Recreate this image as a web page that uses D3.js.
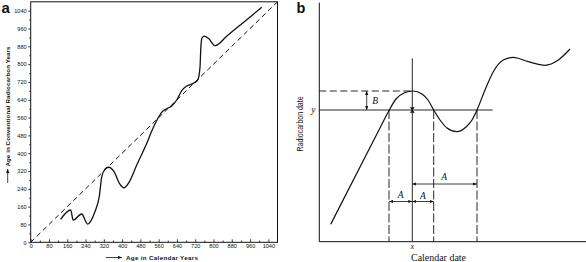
<!DOCTYPE html>
<html>
<head>
<meta charset="utf-8">
<script src="https://cdn.jsdelivr.net/npm/d3@7"></script>
<style>
  html, body { margin: 0; padding: 0; background: #fff; }
  svg { display: block; }
</style>
</head>
<body>
<svg id="chart" width="586" height="262"></svg>
<script>
// ---------- Panel a data ----------
const aCalendar = [131,175,186,223,249,281,300,311,325,340,365,388,408,432,464,508,531,552,576,595,617,639,661,683,712,731,741,744,749,759,778,807,860,910,960,1011];
const aRadiocarbon = [103,145,100,127,82,137,205,295,328,337,317,265,245,272,347,445,503,548,587,600,612,639,681,702,714,729,788,863,916,926,916,883,928,970,1012,1055];
const aTicks = [0,80,160,240,320,400,480,560,640,720,800,880,960,1040];
const aMinorTicks = [40,120,200,280,360,440,520,600,680,760,840,920,1000];
const aDiagonal = [0, 1080];
const aXTitle = "Age in Calendar Years";
const aYTitle = "Age in Conventional Radiocarbon Years";

// ---------- Panel b data (schematic units) ----------
const bCalendar = [11.4,62.7,69.7,76.7,84.7,93.7,102.7,108.7,114.4,120.7,127.7,137.4,146.7,152.7,157.7,165.7,174,184,194,209,225.7,239,250.7];
const bRadiocarbon = [17.4,117.7,131.2,142.7,148.7,150.7,147.7,141.7,131.7,121.7,113.7,110,114.7,121.7,131.7,151.7,170,181.7,184.4,180,176.4,181.7,192.7];
const bYLevel = 131.7;      // measured radiocarbon date y
const bPeakLevel = 150.7;   // dashed level (B offset)
const bXDate = 93;          // true calendar date x
const bCuts = [69.7, 114.4, 157.7]; // calendar intercepts
const bXLineTop = 183.4;
const bYLineEnd = 173.4;
const bArrowBx = 47.4;
const bArrowLowY = 40.2;
const bArrowHighY = 57.7;

const svg = d3.select("#chart");
const ink = "#111";

// markers
const defs = svg.append("defs");
defs.append("marker").attr("id","arr").attr("viewBox","0 0 10 10")
  .attr("refX",10).attr("refY",5).attr("markerWidth",4).attr("markerHeight",4)
  .attr("orient","auto-start-reverse").attr("markerUnits","userSpaceOnUse")
  .append("path").attr("d","M0,1 L10,5 L0,9 Z").attr("fill",ink);

// ================= Panel a =================
const ax = d3.scaleLinear().domain([0,1080]).range([30.7, 277.5]);
const ay = d3.scaleLinear().domain([0,1080]).range([242.3, 1.8]);

// frame
svg.append("rect").attr("x", ax(0)).attr("y", ay(1080))
  .attr("width", ax(1080)-ax(0)).attr("height", ay(0)-ay(1080))
  .attr("fill","none").attr("stroke",ink).attr("stroke-width",1);

// x axis
const xAxisA = d3.axisBottom(ax).tickValues(aTicks).tickSize(-3).tickPadding(3).tickFormat(d3.format("d"));
const gx = svg.append("g").attr("transform",`translate(0,${ay(0)})`).call(xAxisA);
gx.select(".domain").remove();
gx.selectAll("line").attr("stroke",ink).attr("stroke-width",0.8);
gx.selectAll("text").attr("font-family","Liberation Sans, Arial, sans-serif")
  .attr("font-size",5.6).attr("fill",ink).attr("dy","0.5em");
svg.append("g").attr("transform",`translate(0,${ay(0)})`)
  .call(d3.axisBottom(ax).tickValues(aMinorTicks).tickSize(-1.8).tickFormat(""))
  .call(g=>{g.select(".domain").remove(); g.selectAll("line").attr("stroke",ink).attr("stroke-width",0.8);});

// y axis
const yAxisA = d3.axisLeft(ay).tickValues(aTicks).tickSize(2.5).tickPadding(1.5).tickFormat(d3.format("d"));
const gy = svg.append("g").attr("transform",`translate(${ax(0)},0)`).call(yAxisA);
gy.select(".domain").remove();
gy.selectAll("line").attr("stroke",ink).attr("stroke-width",0.8);
gy.selectAll("text").attr("font-family","Liberation Sans, Arial, sans-serif")
  .attr("font-size",5.6).attr("fill",ink);
svg.append("g").attr("transform",`translate(${ax(0)},0)`)
  .call(d3.axisLeft(ay).tickValues(aMinorTicks).tickSize(1.5).tickFormat(""))
  .call(g=>{g.select(".domain").remove(); g.selectAll("line").attr("stroke",ink).attr("stroke-width",0.8);});

// diagonal dashed line
svg.append("line").attr("x1",ax(aDiagonal[0])).attr("y1",ay(aDiagonal[0]))
  .attr("x2",ax(aDiagonal[1])).attr("y2",ay(aDiagonal[1]))
  .attr("stroke",ink).attr("stroke-width",1).attr("stroke-dasharray","5,3.5");

// calibration curve
const aPts = aCalendar.map((c,i)=>[c,aRadiocarbon[i]]);
svg.append("path").datum(aPts)
  .attr("d", d3.line().x(d=>ax(d[0])).y(d=>ay(d[1])).curve(d3.curveMonotoneX))
  .attr("fill","none").attr("stroke",ink).attr("stroke-width",1.3);

// axis titles
svg.append("line").attr("x1",106).attr("y1",257.5).attr("x2",122).attr("y2",257.5)
  .attr("stroke",ink).attr("stroke-width",0.8).attr("marker-end","url(#arr)");
svg.append("text").attr("x",126).attr("y",259.6).text(aXTitle)
  .attr("font-family","Liberation Sans, Arial, sans-serif").attr("font-size",6.2)
  .attr("font-weight","bold").attr("fill",ink)
  .attr("textLength",72).attr("lengthAdjust","spacing");

svg.append("line").attr("x1",7.7).attr("y1",183).attr("x2",7.7).attr("y2",169)
  .attr("stroke",ink).attr("stroke-width",0.8).attr("marker-end","url(#arr)");
svg.append("text").attr("transform","translate(9.8,166.5) rotate(-90)").text(aYTitle)
  .attr("font-family","Liberation Sans, Arial, sans-serif").attr("font-size",6.2)
  .attr("font-weight","bold").attr("fill",ink)
  .attr("textLength",120).attr("lengthAdjust","spacing");

svg.append("text").attr("x",1.5).attr("y",12.7).text("a")
  .attr("font-family","Liberation Sans, Arial, sans-serif").attr("font-size",15)
  .attr("font-weight","bold").attr("fill",ink);

// ================= Panel b =================
const bx = d3.scaleLinear().domain([0,267]).range([319.3, 586.3]);
const by = d3.scaleLinear().domain([0,239]).range([241.7, 2.7]);

// axes
svg.append("line").attr("x1",bx(0)).attr("y1",by(0)).attr("x2",bx(267)).attr("y2",by(0))
  .attr("stroke",ink).attr("stroke-width",1);
svg.append("line").attr("x1",bx(0)).attr("y1",by(0)).attr("x2",bx(0)).attr("y2",by(239))
  .attr("stroke",ink).attr("stroke-width",1);

// curve
const bPts = bCalendar.map((c,i)=>[c,bRadiocarbon[i]]);
svg.append("path").datum(bPts)
  .attr("d", d3.line().x(d=>bx(d[0])).y(d=>by(d[1])).curve(d3.curveMonotoneX))
  .attr("fill","none").attr("stroke",ink).attr("stroke-width",1.2);

// measured y level
svg.append("line").attr("x1",bx(0)).attr("y1",by(bYLevel)).attr("x2",bx(bYLineEnd)).attr("y2",by(bYLevel))
  .attr("stroke",ink).attr("stroke-width",0.9);
// dashed peak level
svg.append("line").attr("x1",bx(0)).attr("y1",by(bPeakLevel)).attr("x2",bx(bXDate)).attr("y2",by(bPeakLevel))
  .attr("stroke",ink).attr("stroke-width",0.9).attr("stroke-dasharray","7,3.5");
// vertical at x
svg.append("line").attr("x1",bx(bXDate)).attr("y1",by(0)).attr("x2",bx(bXDate)).attr("y2",by(bXLineTop))
  .attr("stroke",ink).attr("stroke-width",0.9);
// dashed verticals at intercepts
bCuts.forEach(c=>{
  svg.append("line").attr("x1",bx(c)).attr("y1",by(bYLevel)).attr("x2",bx(c)).attr("y2",by(0))
    .attr("stroke",ink).attr("stroke-width",0.9).attr("stroke-dasharray","9,2.5");
});
// marker at (x, y)
const mx = bx(bXDate), my = by(bYLevel);
svg.append("path").attr("d",`M${mx-2},${my-2.5} L${mx+2},${my-2.5} L${mx-2},${my+2.5} L${mx+2},${my+2.5} Z`)
  .attr("fill",ink).attr("stroke",ink).attr("stroke-width",0.5);

// B arrow
svg.append("line").attr("x1",bx(bArrowBx)).attr("y1",by(bYLevel)).attr("x2",bx(bArrowBx)).attr("y2",by(bPeakLevel))
  .attr("stroke",ink).attr("stroke-width",0.8)
  .attr("marker-start","url(#arr)").attr("marker-end","url(#arr)");
// A arrows
function arrowH(x1,x2,yv){
  svg.append("line").attr("x1",bx(x1)).attr("y1",by(yv)).attr("x2",bx(x2)).attr("y2",by(yv))
    .attr("stroke",ink).attr("stroke-width",0.8)
    .attr("marker-start","url(#arr)").attr("marker-end","url(#arr)");
}
arrowH(bCuts[0], bXDate, bArrowLowY);
arrowH(bXDate, bCuts[1], bArrowLowY);
arrowH(bXDate, bCuts[2], bArrowHighY);

const serif = "Liberation Serif, Times New Roman, serif";
function lab(t,x,y,opts={}){
  return svg.append("text").attr("x",x).attr("y",y).text(t)
    .attr("font-family",serif).attr("font-size",opts.size||9.5)
    .attr("font-style",opts.italic===false?"normal":"italic")
    .attr("text-anchor",opts.anchor||"middle").attr("fill",ink);
}
lab("A", (bx(bCuts[0])+bx(bXDate))/2, by(bArrowLowY)-4);
lab("A", (bx(bXDate)+bx(bCuts[1]))/2, by(bArrowLowY)-3);
lab("A", (bx(bXDate)+bx(bCuts[2]))/2 - 0.5, by(bArrowHighY)-4);
lab("B", bx(bArrowBx)+8.5, by((bYLevel+bPeakLevel)/2)+3.5);
lab("y", bx(0)-6, by(bYLevel)+2.5);
lab("x", bx(bXDate), by(0)+7.5, {size:8});
lab("Calendar date", 438.5, 261, {italic:false, size:9.5})
  .attr("textLength",55).attr("lengthAdjust","spacingAndGlyphs");

svg.append("text").attr("transform",`translate(303,124) rotate(-90)`).text("Radiocarbon date")
  .attr("font-family","Liberation Sans, Arial, sans-serif").attr("font-size",9)
  .attr("text-anchor","middle").attr("fill",ink)
  .attr("textLength",55).attr("lengthAdjust","spacingAndGlyphs");

svg.append("text").attr("x",296.5).attr("y",13.3).text("b")
  .attr("font-family","Liberation Sans, Arial, sans-serif").attr("font-size",14.5)
  .attr("font-weight","bold").attr("fill",ink);
</script>
</body>
</html>
